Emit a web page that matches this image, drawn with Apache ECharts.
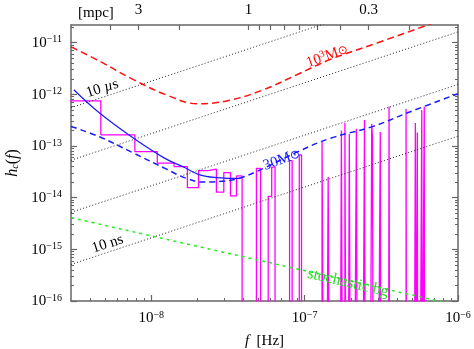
<!DOCTYPE html>
<html>
<head>
<meta charset="utf-8">
<script src="https://cdn.jsdelivr.net/npm/echarts@6/dist/echarts.min.js"></script>
<style>
html, body { margin: 0; padding: 0; background: #fff; }
#chart { width: 474px; height: 349px; }
</style>
</head>
<body>
<div id="chart"></div>
<script>
// ---- data ----
const xMin = 3e-9;
const xMax = 1e-6;
const yMin = 1e-16;
const yMax = 2.2e-11;

// histogram: frequency resolution and the non-empty bins
const binWidth = 3.13e-9;
const binIndex = [1, 2, 3, 4, 5, 6, 7, 8, 9, 10, 11, 12, 16, 19, 20, 26, 30, 42, 46, 56, 59, 63, 70, 79, 88, 89, 100, 114, 147, 169, 174, 186, 193];
const binValue = [7.5e-13, 1.65e-13, 7.8e-14, 4.67e-14, 4.0e-14, 1.57e-14, 3.35e-14, 3.57e-14, 1.28e-14, 3.06e-14, 1.08e-14, 2.64e-14,
    3.7e-14, 1.06e-14, 3.9e-14, 5.2e-14, 6.7e-14, 1.22e-13, 2.5e-14, 2.0e-13, 2.78e-13, 1.7e-13, 2.15e-13, 3.2e-13,
    2.7e-13, 1.46e-13, 1.86e-13, 5.8e-13, 5.2e-13, 2.78e-13, 1.83e-13, 5.0e-13, 5.8e-13];

// 10^3 Msun curve (red dashed)
const heavyCurve = [[3e-9, 8.3e-12], [4.6e-9, 4.4e-12], [7.6e-9, 1.95e-12], [1.25e-8, 9.8e-13], [2.0e-8, 6.6e-13],
    [3.2e-8, 7.6e-13], [5.4e-8, 1.23e-12], [8.9e-8, 2.4e-12], [1.46e-7, 4.7e-12], [3.0e-7, 1.0e-11], [6.4e-7, 2.23e-11], [8e-7, 2.9e-11]];
// 30 Msun curve (blue dashed)
const lightCurve = [[3e-9, 2.39e-13], [4.6e-9, 1.51e-13], [7.6e-9, 7.4e-14], [1.25e-8, 3.6e-14], [1.7e-8, 2.36e-14],
    [2.2e-8, 2.0e-14], [3.0e-8, 2.1e-14], [3.8e-8, 2.4e-14], [5.4e-8, 3.7e-14], [8.9e-8, 7.6e-14], [1.46e-7, 1.4e-13],
    [2.8e-7, 2.4e-13], [4.65e-7, 4.35e-13], [1e-6, 1.03e-12]];
// blue solid line
const lightFit = [[3.13e-9, 1.23e-12], [4.48e-9, 4.67e-13], [7.4e-9, 1.53e-13], [1.22e-8, 5.83e-14], [1.65e-8, 3.83e-14],
    [2.07e-8, 2.77e-14], [2.66e-8, 2.45e-14], [3.8e-8, 2.36e-14]];
// timing residual lines (dotted)
const residual10us = [[3e-9, 5.5e-13], [1e-6, 1.68e-10]];
const residual1us = [[3e-9, 5.3e-14], [1e-6, 1.62e-11]];
const residual100ns = [[3e-9, 5.2e-15], [1e-6, 1.55e-12]];
const residual10ns = [[3e-9, 5.1e-16], [1e-6, 1.55e-13]];
// stochastic background (green)
const stochasticBg = [[3e-9, 4.1e-15], [1e-6, 8.2e-17]];

// top axis: distance in mpc
const freqAt1mpc = 4.3e-8;
const mpcTicks = [4, 3, 2, 1, 0.9, 0.8, 0.7, 0.6, 0.5, 0.4, 0.3, 0.2];
const mpcLabels = [3, 1, 0.3];

// ---- helpers ----
const serif = 'Liberation Serif';
const mpcToFreq = d => freqAt1mpc * Math.pow(d, -1.5);

function decadeTicks(lo, hi, minor) {
    const out = [];
    for (let e = -17; e <= -5; e++) {
        const mults = minor ? [2, 3, 4, 5, 6, 7, 8, 9] : [1];
        mults.forEach(m => {
            const v = m * Math.pow(10, e);
            if (v > lo * 1.0001 && v < hi * 0.9999) out.push(v);
        });
    }
    return out;
}

const xMajor = [1e-8, 1e-7, 1e-6];
const xMinor = decadeTicks(xMin, xMax, true);
const yMajor = [1e-16, 1e-15, 1e-14, 1e-13, 1e-12, 1e-11];
const yMinor = decadeTicks(yMin, yMax, true);

const powLabel = v => {
    const e = Math.round(Math.log10(v));
    return '{b|10}{s|' + (e < 0 ? '\u2212' + (-e) : e) + '}';
};
const powRich = {
    b: { fontFamily: serif, fontSize: 15, color: '#000', verticalAlign: 'bottom' },
    s: { fontFamily: serif, fontSize: 10, color: '#000', verticalAlign: 'bottom', padding: [0, 0, 6, 0] }
};

// histogram as a stepped outline, empty bins drop below the axis
const emptyLevel = 1e-19;
const binMap = {};
binIndex.forEach((k, i) => { binMap[k] = binValue[i]; });
const histData = [];
for (let k = 1; k <= 200; k++) {
    const v = binMap[k] || emptyLevel;
    histData.push([(k - 0.5) * binWidth, v]);
    histData.push([(k + 0.5) * binWidth, v]);
}

const axisColor = '#666';
function xLog(extra) {
    return Object.assign({
        type: 'log', min: xMin, max: xMax, logBase: 10,
        axisLine: { show: false },
        axisTick: { show: false },
        axisLabel: { show: false },
        splitLine: { show: false }
    }, extra);
}
function yLog(extra) {
    return Object.assign({
        type: 'log', min: yMin, max: yMax, logBase: 10,
        axisLine: { show: false },
        axisTick: { show: false },
        axisLabel: { show: false },
        splitLine: { show: false }
    }, extra);
}
const majorTick = vals => ({ show: true, inside: true, length: 6, customValues: vals, lineStyle: { color: axisColor, width: 1.2 } });
const minorTick = vals => ({ show: true, inside: true, length: 3, customValues: vals, lineStyle: { color: axisColor, width: 1 } });
const frame = { show: true, onZero: false, lineStyle: { color: axisColor, width: 1.5 } };

function label(text, coord, rotate, color, size) {
    return {
        silent: true,
        symbol: 'circle',
        symbolSize: 1,
        itemStyle: { color: 'rgba(0,0,0,0)' },
        data: [{
            coord: coord,
            label: {
                show: true, position: 'inside', formatter: text, rotate: rotate,
                color: color, fontFamily: serif, fontSize: size,
                rich: {
                    sup: { fontFamily: serif, fontSize: 10, color: color, verticalAlign: 'bottom', padding: [0, 0, 6, 0] },
                    n: { fontFamily: serif, fontSize: size, color: color, verticalAlign: 'bottom' },
                    o: { fontFamily: 'DejaVu Sans', fontSize: size - 3, color: color, verticalAlign: 'bottom', padding: [0, 0, 1, 0] },
                    i: { fontFamily: serif, fontSize: size, fontStyle: 'italic', color: color, verticalAlign: 'bottom' }
                }
            }
        }]
    };
}

function line(data, color, width, type, extra) {
    return Object.assign({
        type: 'line', data: data, xAxisIndex: 0, yAxisIndex: 0,
        symbol: 'none', clip: true, silent: true,
        lineStyle: { color: color, width: width, type: type }
    }, extra || {});
}

const myChart = echarts.init(document.getElementById('chart'));

const option = {
    animation: false,
    backgroundColor: '#fff',
    grid: { left: 71, right: 16, top: 25, bottom: 48, outerBoundsMode: 'none', containLabel: false },
    xAxis: [
        xLog({
            position: 'bottom',
            axisLine: frame,
            axisTick: majorTick(xMajor),
            axisLabel: {
                show: true, margin: 9, customValues: xMajor,
                formatter: powLabel, rich: powRich
            },
            name: '{i|f}  [Hz]',
            nameLocation: 'middle',
            nameGap: 33,
            nameTextStyle: {
                fontFamily: serif, fontSize: 15, color: '#000',
                rich: { i: { fontFamily: serif, fontSize: 15, fontStyle: 'italic', color: '#000' } }
            }
        }),
        xLog({ position: 'bottom', axisTick: minorTick(xMinor) }),
        xLog({
            position: 'top',
            axisLine: frame,
            axisTick: { show: true, inside: true, length: 5, customValues: mpcTicks.map(mpcToFreq), lineStyle: { color: axisColor, width: 1.2 } },
            axisLabel: {
                show: true, margin: 7, customValues: mpcLabels.map(mpcToFreq),
                fontFamily: serif, fontSize: 15, color: '#000',
                formatter: v => String(+Math.pow(freqAt1mpc / v, 2 / 3).toFixed(1))
            }
        })
    ],
    yAxis: [
        yLog({
            position: 'left',
            axisLine: frame,
            axisTick: majorTick(yMajor),
            axisLabel: {
                show: true, margin: 9, customValues: yMajor,
                formatter: powLabel, rich: powRich
            },
            name: '{i|h}{c|c}{n|(}{i|f}{n|)}',
            nameLocation: 'middle',
            nameRotate: 90,
            nameGap: 42,
            nameTextStyle: {
                rich: {
                    i: { fontFamily: serif, fontSize: 16, fontStyle: 'italic', color: '#000', verticalAlign: 'bottom' },
                    n: { fontFamily: serif, fontSize: 16, color: '#000', verticalAlign: 'bottom' },
                    c: { fontFamily: serif, fontSize: 10, fontStyle: 'italic', color: '#000', verticalAlign: 'bottom' }
                }
            }
        }),
        yLog({ position: 'left', axisTick: minorTick(yMinor) }),
        yLog({ position: 'right', axisLine: frame, axisTick: majorTick(yMajor) }),
        yLog({ position: 'right', axisTick: minorTick(yMinor) })
    ],
    graphic: [{
        type: 'text', left: 78, top: 6,
        style: { text: '[mpc]', fontFamily: serif, fontSize: 15, fill: '#000' }
    }],
    series: [
        line(histData, '#ff00ff', 1.3, 'solid'),
        line(residual10us, '#222', 1, [1, 2.2], { markPoint: label('10 {i|\u00b5}s', [4.8e-9, 1.3e-12], 18, '#000', 15) }),
        line(residual1us, '#222', 1, [1, 2.2]),
        line(residual100ns, '#222', 1, [1, 2.2]),
        line(residual10ns, '#222', 1, [1, 2.2], { markPoint: label('10 ns', [5.2e-9, 1.27e-15], 18, '#000', 15) }),
        line(stochasticBg, '#22ee22', 1.5, [3, 4], { markPoint: label('stochastic bg', [1.92e-7, 2.25e-16], -13, '#22dd22', 16) }),
        line(heavyCurve, '#ff1010', 1.5, [7, 4], { smooth: 0.4, markPoint: label('{n|10}{sup|3}{n|M}{o|\u2299}', [1.4e-7, 5.6e-12], 20, '#ff1010', 15) }),
        line(lightCurve, '#1a1aff', 1.5, [6, 4], { smooth: 0.4, markPoint: label('{n|30M}{o|\u2299}', [7.1e-8, 5.4e-14], 20, '#1a1aff', 15) }),
        line(lightFit, '#1a1aff', 1.2, 'solid', { smooth: 0.4 })
    ]
};

myChart.setOption(option);
</script>
</body>
</html>
